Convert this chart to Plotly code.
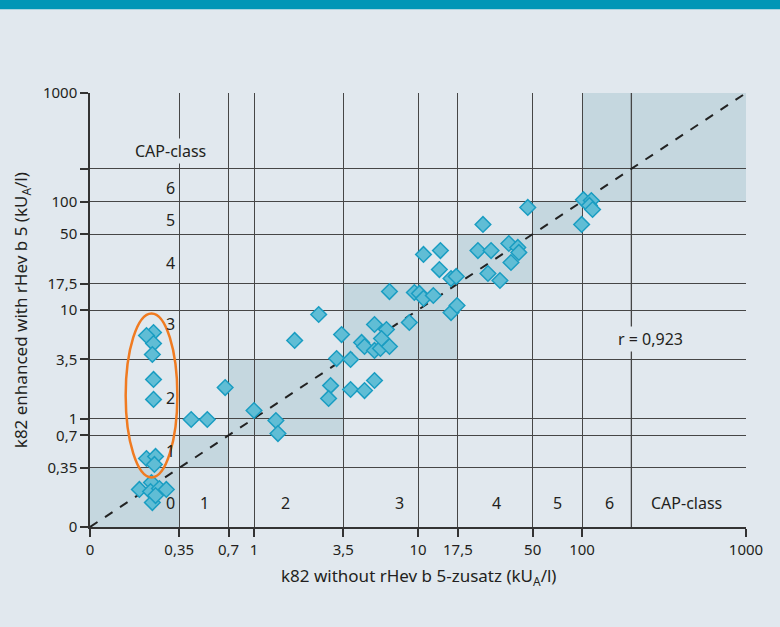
import numpy as np
import plotly.graph_objects as go

# measured values (kU_A/l), "0" is drawn at 0.1 on the log axes
x_without = [0.244, 0.221, 0.244, 0.240, 0.244, 0.244, 0.221, 0.251, 0.247,
             0.200, 0.237, 0.234, 0.265, 0.292, 0.240, 0.251,
             0.414, 0.519, 0.667, 1.0, 1.36, 1.40, 1.77, 2.48,
             3.42, 3.19, 2.93, 2.85, 3.88, 4.72, 5.43, 3.88, 4.53, 4.72, 5.43,
             5.90, 6.70, 5.43, 6.42, 5.99, 8.85,
             6.70, 9.50, 10.2, 10.8, 12.4, 15.9, 17.3,
             10.8, 13.7, 13.5, 15.9, 17.1,
             24.9, 23.2, 27.9, 35.8, 40.6, 41.2, 36.9, 26.7, 31.6, 46.7,
             99.5, 102, 114, 111, 116]
y_with = [6.20, 5.82, 4.91, 3.89, 2.29, 1.50, 0.428, 0.447, 0.377,
          0.222, 0.257, 0.212, 0.226, 0.222, 0.168, 0.195,
          0.979, 0.979, 1.93, 1.185, 0.958, 0.727, 5.24, 9.09,
          5.94, 3.57, 2.01, 1.53, 1.85, 1.81, 2.24, 3.50, 5.02, 4.61, 4.24,
          4.42, 4.61, 7.35, 6.61, 5.46, 7.67,
          14.8, 14.5, 14.2, 12.8, 13.6, 9.48, 11.0,
          32.5, 35.3, 23.6, 19.5, 20.4,
          61.4, 35.3, 35.3, 41.0, 37.7, 33.9, 27.4, 21.7, 18.7, 88.1,
          61.4, 104, 102, 91.9, 84.4]

tick_vals = [0.1, 0.35, 0.7, 1, 3.5, 10, 17.5, 50, 100, 1000]
tick_text = ["0", "0,35", "0,7", "1", "3,5", "10", "17,5", "50", "100", "1000"]
y_tick_vals = [0.1, 0.35, 0.7, 1, 3.5, 10, 17.5, 50, 100, 200, 1000]
y_tick_text = ["0", "0,35", "0,7", "1", "3,5", "10", "17,5", "50", "100", "", "1000"]

# CAP class limits (diagonal boxes)
class_bounds = [(0.1, 0.35), (0.35, 0.7), (0.7, 3.5), (3.5, 17.5),
                (17.5, 50), (50, 100), (100, 1000)]
extra_line = 200

class_labels = ["0", "1", "2", "3", "4", "5", "6"]
label_x_bottom = [0.31, 0.497, 1.56, 7.7, 29.9, 71, 147]
label_y_left = [0.165, 0.507, 1.53, 7.5, 27.4, 68, 134.6]
cap_bottom_x = 432
cap_left_y = 295

identity_line = [0.1, 1000]
ellipse_x = [0.165, 0.341]
ellipse_y = [0.286, 9.29]
r_text = "r = 0,923"
r_pos = (261, 5.46)

bg = "#e1e8ee"
box_col = "#c5d7df"
grid_col = "#464646"
txt_col = "#231f20"
font = "Noto Sans"

fig = go.Figure()

fig.add_trace(go.Scatter(x=identity_line, y=identity_line, mode="lines",
                         line=dict(color="#222222", width=2, dash="dash"),
                         hoverinfo="skip", showlegend=False))
fig.add_trace(go.Scatter(x=x_without, y=y_with, mode="markers",
                         marker=dict(symbol="diamond", size=12, color="#60bdd5",
                                     line=dict(color="#1a9dc2", width=1.5)),
                         showlegend=False))

shapes = []
for lo, hi in class_bounds:
    shapes.append(dict(type="rect", xref="x", yref="y", x0=lo, x1=hi, y0=lo, y1=hi,
                       fillcolor=box_col, line=dict(width=0), layer="below"))
shapes.append(dict(type="line", xref="x", yref="y", x0=extra_line, x1=extra_line,
                   y0=identity_line[0], y1=identity_line[1],
                   line=dict(color=grid_col, width=1.3), layer="between"))
shapes.append(dict(type="circle", xref="x", yref="y",
                   x0=ellipse_x[0], x1=ellipse_x[1], y0=ellipse_y[0], y1=ellipse_y[1],
                   line=dict(color="#f07b21", width=2.5), layer="above"))
# top banner
shapes.append(dict(type="rect", xref="paper", yref="paper", x0=-0.3, x1=1.3,
                   y0=1.193, y1=1.25, fillcolor="#0096b6", line=dict(width=0)))

annotations = []
afont = dict(family=font, size=16, color=txt_col)
for lab, xv in zip(class_labels, label_x_bottom):
    annotations.append(dict(x=np.log10(xv), y=np.log10(0.165), text=lab, showarrow=False,
                            font=afont, xref="x", yref="y"))
for lab, yv in zip(class_labels[1:], label_y_left[1:]):
    annotations.append(dict(x=np.log10(0.31), y=np.log10(yv), text=lab, showarrow=False,
                            font=afont, xref="x", yref="y"))
annotations.append(dict(x=np.log10(cap_bottom_x), y=np.log10(0.165), text="CAP-class",
                        showarrow=False, font=afont))
annotations.append(dict(x=np.log10(0.31), y=np.log10(cap_left_y), text="CAP-class",
                        showarrow=False, font=afont, bgcolor=bg))
annotations.append(dict(x=np.log10(r_pos[0]), y=np.log10(r_pos[1]), text=r_text,
                        showarrow=False, font=afont, bgcolor=bg))
annotations.append(dict(xref="paper", yref="paper", x=0.5, y=-0.147,
                        text="k82 without rHev b 5-zusatz (kU<sub>A</sub>/l)",
                        showarrow=False, font=dict(family=font, size=17, color=txt_col)))
annotations.append(dict(xref="paper", yref="paper", x=-0.127, y=0.5, textangle=-90,
                        text="k82 enhanced with rHev b 5 (kU<sub>A</sub>/l)",
                        showarrow=False, font=dict(family=font, size=17, color=txt_col)))

axis_common = dict(type="log", range=[-1, 3], showgrid=True, gridcolor=grid_col,
                   gridwidth=1.3, showline=True, linecolor="#333333", linewidth=1.5,
                   ticks="outside", ticklen=8, tickwidth=1.5, tickcolor="#333333",
                   tickfont=dict(family=font, size=15, color=txt_col), zeroline=False)

fig.update_layout(
    width=780, height=627,
    margin=dict(l=90, r=34, t=93, b=100),
    paper_bgcolor=bg, plot_bgcolor=bg,
    shapes=shapes, annotations=annotations,
    xaxis=dict(axis_common, tickmode="array", tickvals=tick_vals, ticktext=tick_text),
    yaxis=dict(axis_common, tickmode="array", tickvals=y_tick_vals, ticktext=y_tick_text),
)

fig.write_html("out.html", config={"displayModeBar": False},
               post_script="document.body.style.margin='0';")
